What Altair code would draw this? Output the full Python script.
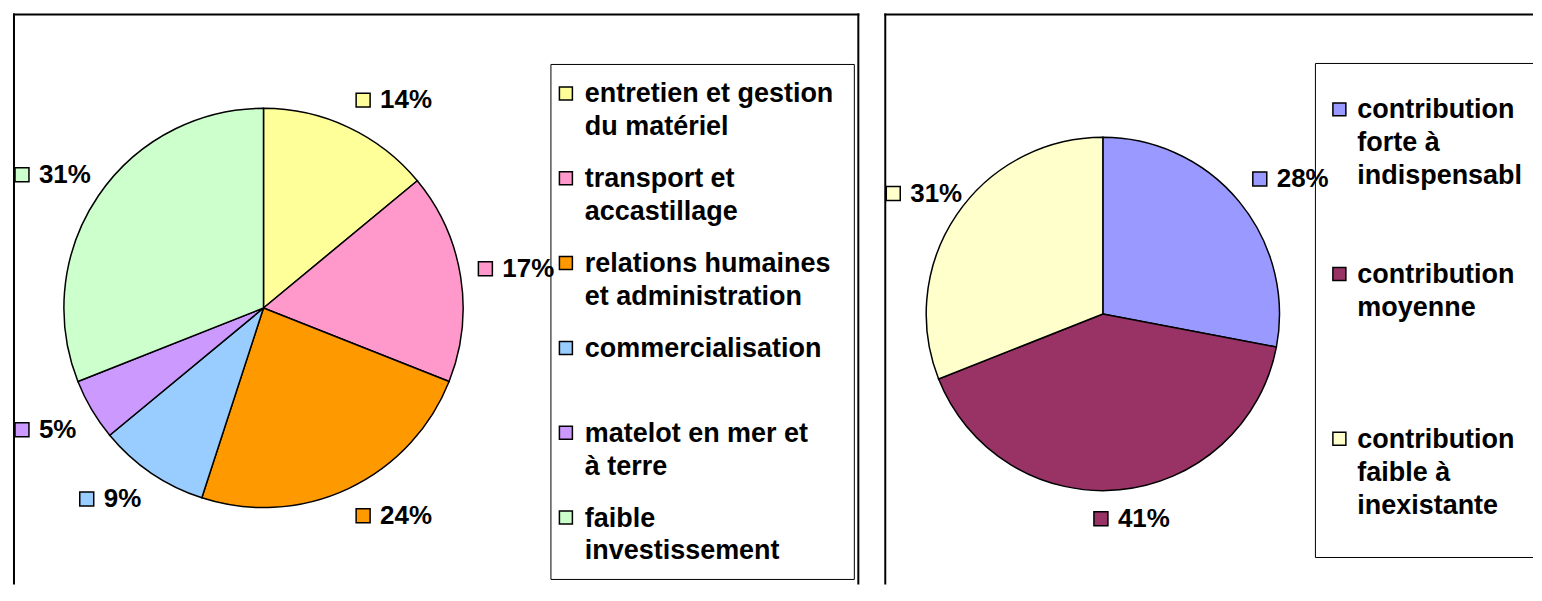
import altair as alt
import pandas as pd

# ---- data: left pie ----
cats1 = ["entretien et gestion du matériel", "transport et accastillage",
         "relations humaines et administration", "commercialisation",
         "matelot en mer et à terre", "faible investissement"]
legend1 = ["entretien et gestion\ndu matériel", "transport et\naccastillage",
           "relations humaines\net administration", "commercialisation",
           "matelot en mer et\nà terre", "faible\ninvestissement"]
vals1 = [14, 17, 24, 9, 5, 31]
colors1 = ["#FFFF99", "#FF99CC", "#FF9900", "#99CCFF", "#CC99FF", "#CCFFCC"]

# ---- data: right pie ----
cats2 = ["contribution forte à indispensable", "contribution moyenne",
         "contribution faible à inexistante"]
legend2 = ["contribution\nforte à\nindispensable", "contribution\nmoyenne",
           "contribution\nfaible à\ninexistante"]
vals2 = [28, 41, 31]
colors2 = ["#9999FF", "#993366", "#FFFFCC"]

FONT = "Liberation Sans"
FS_LAB = 26
FS_LEG = 27
H = 572


def rule(x, x2, y, y2, w=1.0):
    return alt.Chart(pd.DataFrame({"k": [0]})).mark_rule(
        color="black", strokeWidth=w
    ).encode(x=alt.value(x), x2=alt.value(x2), y=alt.value(y), y2=alt.value(y2))


def panel(cats, leg, vals, colors, W, cx, cy, R, frame_rules, leg_sq_x, leg_tx_x,
          ly0, step):
    df = pd.DataFrame({"cat": cats, "leg": leg, "value": vals,
                       "idx": list(range(len(cats)))})
    color = alt.Color("cat:N", scale=alt.Scale(domain=cats, range=colors), legend=None)
    base = alt.Chart(df)

    pie = base.mark_arc(outerRadius=R, stroke="black", strokeWidth=1.5).encode(
        theta=alt.Theta("value:Q", stack=True),
        color=color,
        order=alt.Order("idx:Q"),
        x=alt.value(cx), y=alt.value(cy),
    )

    rl = R + 18
    lab = (base.transform_joinaggregate(total="sum(value)")
           .transform_window(cum="sum(value)", sort=[alt.SortField("idx")], frame=[None, 0])
           .transform_calculate(a="2*PI*(datum.cum - datum.value/2)/datum.total")
           .transform_calculate(lab="datum.value + '%'")
           .transform_calculate(px=f"{cx} + {rl}*sin(datum.a)")
           .transform_calculate(py=f"{cy} - {rl}*cos(datum.a)")
           .transform_calculate(tw=f"((length(datum.lab)-1)*0.556 + 0.889)*{FS_LAB}")
           .transform_calculate(gw="datum.tw + 24")
           .transform_calculate(s="clamp(3*sin(datum.a), -1, 1)")
           # keep the label box inside the chart area
           .transform_calculate(gx=f"clamp(datum.px - datum.gw*(1-datum.s)/2, 2, {W} - datum.gw - 2)")
           .transform_calculate(gy="datum.py - 11*clamp(3*cos(datum.a), -1, 1)")
           .transform_calculate(sqx="datum.gx + 7")
           .transform_calculate(tx="datum.gx + 24"))

    lab_sq = lab.mark_square(size=196, stroke="black", strokeWidth=1.5, opacity=1).encode(
        x=alt.X("sqx:Q", scale=None, axis=None),
        y=alt.Y("gy:Q", scale=None, axis=None),
        color=color,
    )
    lab_tx = lab.mark_text(align="left", baseline="middle", fontSize=FS_LAB,
                           fontWeight="bold", font=FONT, color="black").encode(
        x=alt.X("tx:Q", scale=None, axis=None),
        y=alt.Y("gy:Q", scale=None, axis=None),
        text="lab:N",
    )

    lg = base.transform_calculate(ly=f"{ly0} + datum.idx*{step}").transform_calculate(
        ty="datum.ly + 9")
    leg_sq = lg.mark_square(size=169, stroke="black", strokeWidth=1.5, opacity=1).encode(
        x=alt.value(leg_sq_x),
        y=alt.Y("ly:Q", scale=None, axis=None),
        color=color,
    )
    leg_tx = lg.mark_text(align="left", baseline="alphabetic", lineBreak="\n",
                          lineHeight=33, fontSize=FS_LEG, fontWeight="bold",
                          font=FONT, color="black", limit=W - leg_tx_x - 1,
                          ellipsis="\u200b").encode(
        x=alt.value(leg_tx_x),
        y=alt.Y("ty:Q", scale=None, axis=None),
        text="leg:N",
    )

    frames = [rule(*r) for r in frame_rules]
    return alt.layer(*frames, pie, lab_sq, lab_tx, leg_sq, leg_tx).properties(
        width=W, height=H)


WL, WR = 848, 650
left = panel(cats1, legend1, vals1, colors1, WL, cx=251, cy=295, R=200,
             frame_rules=[(0, WL, 1, 1, 2), (1, 1, 0, H, 2), (WL - 1, WL - 1, 0, H, 2),
                          (539, 843, 51, 51), (539, 843, 567, 567),
                          (539, 539, 51, 567), (843, 843, 51, 567)],
             leg_sq_x=554, leg_tx_x=573, ly0=80, step=85)
right = panel(cats2, legend2, vals2, colors2, WR, cx=219, cy=301, R=177,
              frame_rules=[(0, WR, 1, 1, 2), (1, 1, 0, H, 2),
                           (432, WR, 50, 50), (432, WR, 545, 545), (432, 432, 50, 545)],
              leg_sq_x=456, leg_tx_x=474, ly0=96, step=165)

chart = (alt.hconcat(left, right, spacing=23)
         .resolve_scale(color="independent", theta="independent")
         .properties(padding={"left": 4, "top": 4, "right": 0, "bottom": 0})
         .configure_view(strokeWidth=0))

chart.save("out.html", embed_options={"renderer": "svg", "actions": False})
